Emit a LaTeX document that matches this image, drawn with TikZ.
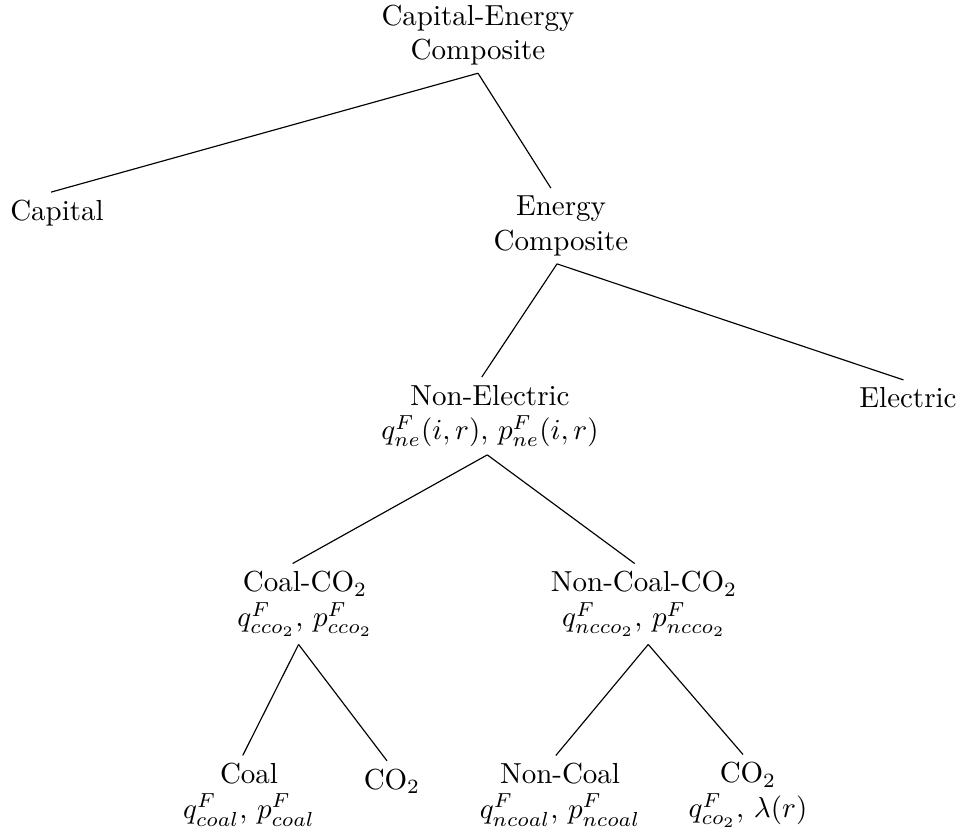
\documentclass[tikz,border=0pt]{standalone}
\begin{document}
\begin{tikzpicture}[x=0.345pt,y=-0.345pt,
  lbl/.style={align=center, inner sep=2.5pt}]
\useasboundingbox (0,0) rectangle (962,839);
% upper levels
\node (ce) [lbl] at (478,35) {Capital-Energy\\Composite};
\node (cap) [lbl] at (57,213) {Capital};
\node (en) [lbl] at (561,226) {Energy\\Composite};
\node (el) [lbl] at (908,398) {Electric};
\node (ne) [lbl] at (490,416) {Non-Electric\\$q^F_{ne}(i,r)$, $p^F_{ne}(i,r)$};
% fuel nests
\node (cc) [lbl] at (305,604) {Coal-CO$_2$\\$q^F_{cco_2}$, $p^F_{cco_2}$};
\node (ncc) [lbl] at (644,604) {Non-Coal-CO$_2$\\$q^F_{ncco_2}$, $p^F_{ncco_2}$};
\node (coal) [lbl] at (249,795) {Coal\\$q^F_{coal}$, $p^F_{coal}$};
\node (co) [lbl] at (392,781) {CO$_2$};
\node (nc) [lbl] at (560,795) {Non-Coal\\$q^F_{ncoal}$, $p^F_{ncoal}$};
\node (cot) [lbl] at (748,795) {CO$_2$\\$q^F_{co_2}$, $\lambda(r)$};
\draw (ce.south) -- (cap.106);
\draw (ce.south) -- (en.105);
\draw (en.264) -- (ne.102);
\draw (en.264) -- (el.104);
\draw (ne.266) -- (cc.107);
\draw (ne.266) -- (ncc.103);
\draw (cc.261) -- (coal.99);
\draw (cc.261) -- (co.104);
\draw (ncc.276) -- (nc.96);
\draw (ncc.276) -- (cot.97);
\end{tikzpicture}
\end{document}
